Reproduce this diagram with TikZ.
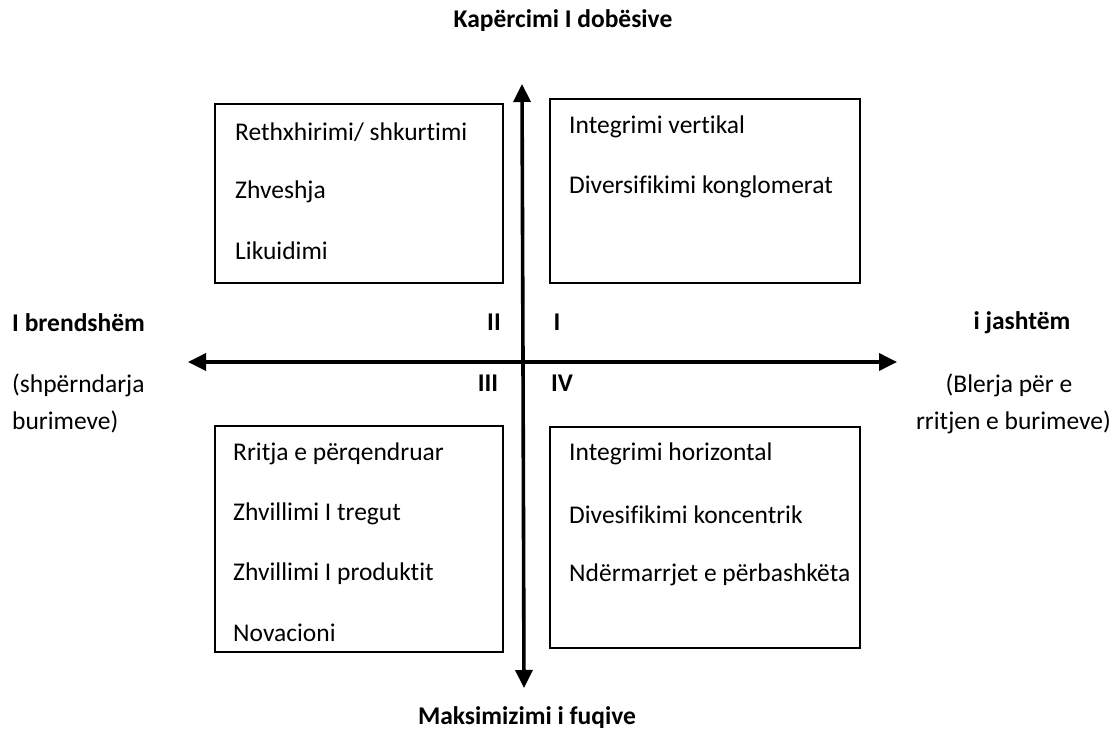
\documentclass[tikz,border=0pt]{standalone}
\usepackage{fontspec}
\setmainfont{Carlito}[Ligatures=NoCommon]
\usetikzlibrary{arrows.meta}
\tikzset{
  qbox/.style={draw=black, line width=1.2pt, minimum width=#1, inner sep=0pt},
  item/.style={anchor=west, inner sep=0pt, font=\fontsize{25.5}{30}\selectfont},
  lbl/.style={inner sep=0pt, font=\fontsize{25.5}{30}\selectfont\bfseries},
  txt/.style={inner sep=0pt, font=\fontsize{25.5}{30}\selectfont},
  axis/.style={line width=3.6pt, -{Triangle[length=18pt,width=17pt]}}
}
\begin{document}
\begin{tikzpicture}[x=1pt,y=-1pt]
\useasboundingbox (0,0) rectangle (1116,735);
% boxes
\node[qbox=288pt, minimum height=179pt] (b2) at (359,193.5) {};
\node[qbox=310pt, minimum height=184pt] (b1) at (705,191) {};
\node[qbox=288pt, minimum height=226pt] (b3) at (359,539) {};
\node[qbox=310pt, minimum height=221pt] (b4) at (705,537.5) {};
% axes
\coordinate (ctr) at (523,362);
\coordinate (top) at (522,84);
\coordinate (bot) at (524,688);
\coordinate (lft) at (188,362);
\coordinate (rgt) at (897,362);
\draw[axis] (ctr) -- (top);
\draw[axis] (ctr) -- (bot);
\draw[axis] (ctr) -- (lft);
\draw[axis] (ctr) -- (rgt);
% box texts
\node[item] (t21) at (235,132) {Rethxhirimi/ shkurtimi};
\node[item] (t22) at (235,192) {Zhveshja};
\node[item] (t23) at (235,251) {Likuidimi};
\node[item] (t11) at (569,127) {Integrimi vertikal};
\node[item] (t12) at (569,187) {Diversifikimi konglomerat};
\node[item] (t31) at (233,454) {Rritja e përqendruar};
\node[item] (t32) at (233,514) {Zhvillimi I tregut};
\node[item] (t33) at (233,574) {Zhvillimi I produktit};
\node[item] (t34) at (233,633) {Novacioni};
\node[item] (t41) at (569,454) {Integrimi horizontal};
\node[item] (t42) at (569,515) {Divesifikimi koncentrik};
\node[item] (t43) at (569,575) {Ndërmarrjet e përbashkëta};
% quadrant numerals
\node[lbl] (q2) at (494,322) {II};
\node[lbl] (q1) at (557,322) {I};
\node[lbl] (q3) at (488,383) {III};
\node[lbl] (q4) at (562,383) {IV};
% axis labels
\node[lbl] (ntop) at (563,21) {Kapërcimi I dobësive};
\node[lbl] (nbot) at (527,718) {Maksimizimi i fuqive};
\node[lbl, anchor=west] (nl) at (12,323) {I brendshëm};
\node[txt, anchor=west] (nl1) at (12,385) {(shpërndarja};
\node[txt, anchor=west] (nl2) at (12,422) {burimeve)};
\node[lbl] (nr) at (1022,323) {i jashtëm};
\node[txt] (nr1) at (1009,385) {(Blerja për e};
\node[txt, anchor=east] (nr2) at (1111,422) {rritjen e burimeve)};
\end{tikzpicture}
\end{document}
